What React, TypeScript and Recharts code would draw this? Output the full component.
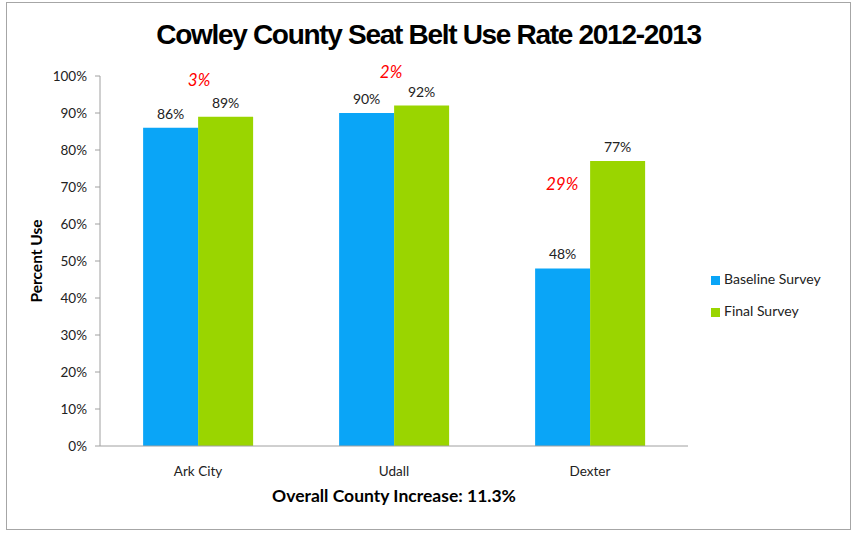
import { BarChart, Bar, XAxis, YAxis, Legend, LabelList } from "recharts";

const categories = ["Ark City", "Udall", "Dexter"];
const baseline = [86, 90, 48];
const finalSurvey = [89, 92, 77];
const increases = ["3%", "2%", "29%"];
const yTicks = [0, 10, 20, 30, 40, 50, 60, 70, 80, 90, 100];

const data = categories.map((name, i) => ({
  name,
  baseline: baseline[i],
  final: finalSurvey[i],
  increase: increases[i],
}));

// where each red increase label sits, relative to the left/top of the green bar
const increaseOffsets = [
  { dx: 1, dy: -37 },
  { dx: -3, dy: -34 },
  { dx: -28, dy: 22 },
];

const FONT = "Lato, 'Open Sans', sans-serif";
const BLUE = "#0aa5f7";
const GREEN = "#9ad500";

function IncreaseLabel(props: any) {
  const { x, y, index, value } = props;
  const off = increaseOffsets[index];
  return (
    <text
      x={x + off.dx}
      y={y + off.dy}
      textAnchor="middle"
      dominantBaseline="central"
      fill="#ff0000"
      fontSize={17}
      fontStyle="italic"
      fontFamily={FONT}
    >
      {value}
    </text>
  );
}

export default function App() {
  return (
    <div
      style={{
        position: "absolute",
        left: 6,
        top: 2,
        width: 845,
        height: 528,
        border: "1px solid #a6a6a6",
        boxSizing: "border-box",
        background: "#fff",
        fontFamily: FONT,
      }}
    >
      <div
        style={{
          position: "absolute",
          left: 0,
          right: 0,
          top: 16,
          textAlign: "center",
          fontFamily: "'Liberation Sans Narrow', sans-serif",
          fontWeight: "bold",
          fontSize: 28,
          letterSpacing: -1.3,
          color: "#000",
        }}
      >
        Cowley County Seat Belt Use Rate 2012-2013
      </div>
      <div style={{ position: "absolute", left: 0, top: 0 }}>
        <BarChart
          width={843}
          height={526}
          data={data}
          margin={{ top: 73, right: 162, left: 0, bottom: 23 }}
          barCategoryGap="22%"
          barGap={0}
        >
          <YAxis
            width={93}
            domain={[0, 100]}
            ticks={yTicks}
            tickFormatter={(v) => `${v}%`}
            axisLine={{ stroke: "#a0a0a0" }}
            tickLine={{ stroke: "#a0a0a0" }}
            tickSize={5}
            tickMargin={8}
            tick={{ fill: "#222", fontSize: 13.5, fontFamily: FONT }}
            label={{
              value: "Percent Use",
              angle: -90,
              position: "center",
              dx: -17,
              fill: "#000",
              fontSize: 15.5,
              fontWeight: "bold",
              fontFamily: FONT,
            }}
          />
          <XAxis
            dataKey="name"
            height={60}
            axisLine={{ stroke: "#a0a0a0" }}
            tickLine={false}
            tickMargin={14}
            tick={{ fill: "#222", fontSize: 13.5, fontFamily: FONT }}
            label={{
              value: "Overall County Increase: 11.3%",
              position: "insideBottom",
              offset: 4,
              fill: "#000",
              fontSize: 17.5,
              fontWeight: "bold",
              fontFamily: FONT,
            }}
          />
          <Legend
            layout="vertical"
            align="center"
            verticalAlign="middle"
            iconType="square"
            iconSize={9}
            wrapperStyle={{ left: 704, top: 260, width: 140, fontSize: 14, lineHeight: "32px" }}
            formatter={(v) => <span style={{ color: "#222" }}>{v}</span>}
          />
          <Bar dataKey="baseline" name="Baseline Survey" fill={BLUE} isAnimationActive={false}>
            <LabelList
              dataKey="baseline"
              position="top"
              offset={9}
              formatter={(v: any) => `${v}%`}
              style={{ fill: "#222", fontSize: 14, fontFamily: FONT }}
            />
          </Bar>
          <Bar dataKey="final" name="Final Survey" fill={GREEN} isAnimationActive={false}>
            <LabelList
              dataKey="final"
              position="top"
              offset={9}
              formatter={(v: any) => `${v}%`}
              style={{ fill: "#222", fontSize: 14, fontFamily: FONT }}
            />
            <LabelList dataKey="increase" content={<IncreaseLabel />} />
          </Bar>
        </BarChart>
      </div>
    </div>
  );
}
